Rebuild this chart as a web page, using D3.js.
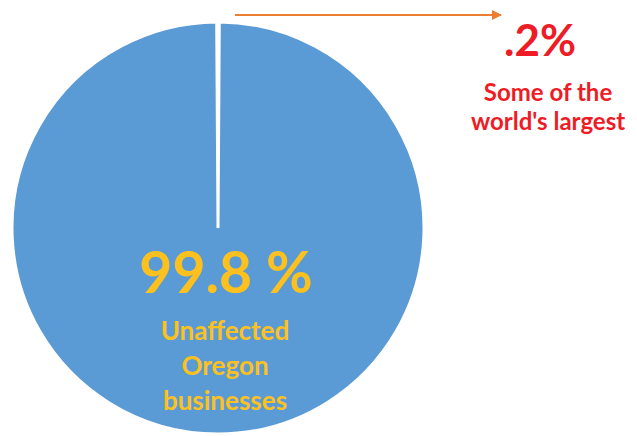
<!DOCTYPE html>
<html>
<head>
<meta charset="utf-8">
<script src="https://cdn.jsdelivr.net/npm/d3@7"></script>
<style>
  body { margin: 0; background: #ffffff; }
  svg { display: block; font-family: Lato, "Open Sans", sans-serif; font-weight: bold; }
</style>
</head>
<body>
<figure id="pie" style="margin:0"></figure>
<script>
// slices, small one first so it sits at 12 o'clock
var categories = ["Some of the world's largest", "Unaffected Oregon businesses"];
var values = [0.2, 99.8];
var sliceColors = ["#ffffff", "#5b9bd5"];

// label text
var bigPct = "99.8 %";
var bigLabel = ["Unaffected", "Oregon", "businesses"];
var smallPct = ".2%";
var smallLabel = ["Some of the", "world's largest"];

var dimensions = {
  width: 637,
  height: 436,
  cx: 218,
  cy: 228,
  radius: 206
};

var svg = d3.select("figure#pie")
  .append("svg")
  .attr("width", dimensions.width)
  .attr("height", dimensions.height);

var color = d3.scaleOrdinal().domain(categories).range(sliceColors);

// centre the tiny slice on the top
var half = Math.PI * values[0] / d3.sum(values);
var pie = d3.pie()
  .sort(null)
  .value(d => d.value)
  .startAngle(-half)
  .endAngle(2 * Math.PI - half);

var arc = d3.arc().innerRadius(0).outerRadius(dimensions.radius);

var data = categories.map((c, i) => ({ category: c, value: values[i] }));

var g = svg.append("g")
  .attr("transform", `translate(${dimensions.cx},${dimensions.cy})`);

g.selectAll("path")
  .data(pie(data))
  .enter()
  .append("path")
  .attr("d", arc)
  // the small slice is pulled out a little, like the original
  .attr("transform", (d, i) => i === 0 ? "translate(0,-12)" : null)
  .attr("fill", d => color(d.data.category))
  .attr("stroke", "#ffffff")
  .attr("stroke-width", 3);

// arrow marker
svg.append("defs").append("marker")
  .attr("id", "head")
  .attr("viewBox", "0 0 10 10")
  .attr("refX", 9)
  .attr("refY", 5)
  .attr("markerWidth", 5)
  .attr("markerHeight", 5)
  .attr("orient", "auto")
  .append("path")
  .attr("d", "M0,0 L10,5 L0,10 Z")
  .attr("fill", "#ed7d31");

// arrow from small slice to its label
svg.append("line")
  .attr("x1", dimensions.cx + 17)
  .attr("y1", 15)
  .attr("x2", 501)
  .attr("y2", 15)
  .attr("stroke", "#ed7d31")
  .attr("stroke-width", 2)
  .attr("marker-end", "url(#head)");

// big slice labels
svg.append("text")
  .attr("x", 226)
  .attr("y", 293)
  .attr("text-anchor", "middle")
  .attr("font-size", 57)
  .attr("fill", "#fdc11f")
  .text(bigPct);

svg.selectAll("text.big")
  .data(bigLabel)
  .enter()
  .append("text")
  .attr("class", "big")
  .attr("x", 225)
  .attr("y", (d, i) => 340 + i * 35)
  .attr("text-anchor", "middle")
  .attr("font-size", 26)
  .attr("fill", "#fdc11f")
  .text(d => d);

// small slice labels
svg.append("text")
  .attr("x", 540)
  .attr("y", 56)
  .attr("text-anchor", "middle")
  .attr("font-size", 44)
  .attr("fill", "#ee1c25")
  .text(smallPct);

svg.selectAll("text.small")
  .data(smallLabel)
  .enter()
  .append("text")
  .attr("class", "small")
  .attr("x", 548)
  .attr("y", (d, i) => 101 + i * 29)
  .attr("text-anchor", "middle")
  .attr("font-size", 24)
  .attr("fill", "#ee1c25")
  .text(d => d);
</script>
</body>
</html>
